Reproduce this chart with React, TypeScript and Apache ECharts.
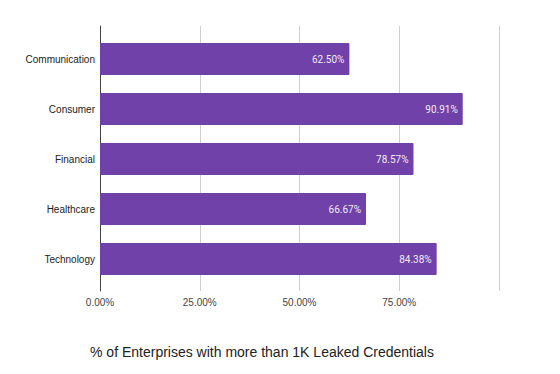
import React, { useEffect, useRef } from "react";
import * as echarts from "echarts";

const categories = ["Communication", "Consumer", "Financial", "Healthcare", "Technology"];
const values = [62.5, 90.91, 78.57, 66.67, 84.38];
const xTicks = [0, 25, 50, 75, 100];
const chartTitle = "% of Enterprises with more than 1K Leaked Credentials";

export default function App() {
  const ref = useRef<HTMLDivElement>(null);
  useEffect(() => {
    if (!ref.current) return;
    const chart = echarts.init(ref.current, null, { renderer: "svg" });
    const font = "Liberation Sans, Arial, sans-serif";
    chart.setOption({
      animation: false,
      backgroundColor: "#ffffff",
      title: {
        text: chartTitle,
        left: 257,
        textAlign: "center",
        top: 340,
        textStyle: { fontFamily: font, fontSize: 14, fontWeight: "normal", color: "#222" },
      },
      grid: [
        { left: 100, width: 399, top: 26, height: 265 },
        { left: 100, width: 399, top: 34, height: 250 },
      ],
      xAxis: [
        {
          gridIndex: 0,
          type: "value",
          min: xTicks[0],
          max: xTicks[xTicks.length - 1],
          interval: xTicks[1] - xTicks[0],
          axisLine: { show: false },
          axisTick: { show: false },
          splitLine: { show: true, lineStyle: { color: "#cfcfcf", width: 1 } },
          axisLabel: {
            showMaxLabel: false,
            margin: 6,
            fontFamily: font,
            fontSize: 10,
            color: "#444",
            formatter: (v: number) => v.toFixed(2) + "%",
          },
        },
        {
          gridIndex: 1,
          type: "value",
          min: xTicks[0],
          max: xTicks[xTicks.length - 1],
          show: false,
        },
      ],
      yAxis: [
        {
          gridIndex: 0,
          type: "value",
          min: 0,
          max: 1,
          axisLine: { show: true, lineStyle: { color: "#444", width: 1 } },
          axisTick: { show: false },
          axisLabel: { show: false },
          splitLine: { show: false },
        },
        {
          gridIndex: 1,
          type: "category",
          data: categories,
          inverse: true,
          axisLine: { show: false },
          axisTick: { show: false },
          splitLine: { show: false },
          axisLabel: { margin: 5, fontFamily: font, fontSize: 10, color: "#222" },
        },
      ],
      series: [
        {
          type: "bar",
          xAxisIndex: 1,
          yAxisIndex: 1,
          data: values,
          barWidth: 32,
          itemStyle: { color: "#6f41a9", borderRadius: 1 },
          label: {
            show: true,
            position: "insideRight",
            distance: 5,
            color: "#f2ecf8",
            fontFamily: "Roboto, Arial, sans-serif",
            fontSize: 10,
            formatter: (p: any) => p.value.toFixed(2) + "%",
          },
        },
      ],
    });
    return () => chart.dispose();
  }, []);
  return (
    <div
      ref={ref}
      style={{ position: "fixed", left: 0, top: 0, width: 560, height: 374 }}
    />
  );
}
